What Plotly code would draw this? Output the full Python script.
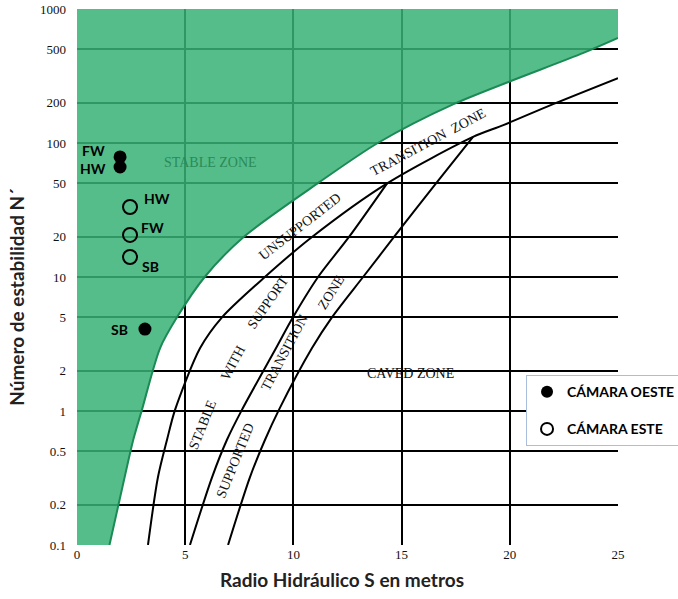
import numpy as np
import plotly.graph_objects as go

# ---------------- data ----------------
x_tick_vals = [0, 5, 10, 15, 20, 25]
y_tick_vals = [0.1, 0.2, 0.5, 1, 2, 5, 10, 20, 50, 100, 200, 500, 1000]
y_tick_text = ["0.1", "0.2", "0.5", "1", "2", "5", "10", "20", "50", "100", "200", "500", "1000"]

# boundary of the stable zone (green edge)
stable_x = [1.5, 2.2, 2.6, 3.0, 3.84, 4.62, 5.9, 7.7, 11.2, 13.9, 17.4, 23.4, 25.0]
stable_y = [0.1, 0.32, 0.61, 1.02, 2.95, 5.0, 10, 19.9, 51, 100, 195, 470, 608]

# lower boundary of unsupported transition zone / upper of stable with support
unsup_x = [3.28, 3.74, 4.16, 4.53, 5.69, 6.70, 8.68, 10.86, 14.33, 18.3, 19.7, 22.0, 25.0]
unsup_y = [0.1, 0.32, 0.61, 1.02, 2.95, 5.0, 10, 19.9, 50, 111, 136, 195, 305]

# stable with support / supported transition boundary
support_x = [5.22, 6.24, 6.93, 7.62, 9.2, 9.98, 11.14, 12.57, 14.33]
support_y = [0.1, 0.32, 0.61, 1.02, 2.95, 5.0, 10, 19.9, 50]

# supported transition / caved boundary
caved_x = [6.98, 7.99, 8.69, 9.33, 10.86, 11.78, 13.22, 14.65, 16.59, 18.3]
caved_y = [0.1, 0.32, 0.61, 1.02, 2.95, 5.0, 10, 19.9, 50, 111]

# observations
oeste_labels = ["FW", "HW", "SB"]
oeste_x = [1.99, 1.99, 3.14]
oeste_y = [78.7, 66.2, 4.09]

este_labels = ["HW", "FW", "SB"]
este_x = [2.45, 2.45, 2.45]
este_y = [33.3, 20.6, 14.1]

# ---------------- figure ----------------
fig = go.Figure()

serif = "Liberation Serif, Times New Roman, serif"
sans = "Lato, Open Sans, Arial, sans-serif"

# invisible outline of top-left corner used to close the green fill
fig.add_trace(go.Scatter(x=[0, 0, 25], y=[0.1, 1000, 1000], mode="lines",
                         line=dict(width=0, color="rgba(0,0,0,0)"),
                         showlegend=False, hoverinfo="skip"))
fig.add_trace(go.Scatter(x=stable_x, y=stable_y, mode="lines",
                         line=dict(color="#1b8a55", width=2, shape="spline", smoothing=0.8),
                         fill="tonexty", fillcolor="rgba(55,178,118,0.85)",
                         showlegend=False, hoverinfo="skip"))

for cx, cy in [(unsup_x, unsup_y), (support_x, support_y), (caved_x, caved_y)]:
    fig.add_trace(go.Scatter(x=cx, y=cy, mode="lines",
                             line=dict(color="black", width=2, shape="spline", smoothing=0.8),
                             showlegend=False, hoverinfo="skip"))

fig.add_trace(go.Scatter(x=oeste_x, y=oeste_y, mode="markers", name="<b>CÁMARA OESTE</b>",
                         marker=dict(color="black", size=13, symbol="circle"),
                         legendgroup="a"))
fig.add_trace(go.Scatter(x=este_x, y=este_y, mode="markers", name="<b>CÁMARA ESTE</b>",
                         marker=dict(color="black", size=14, symbol="circle-open", line=dict(width=2)),
                         legendgroup="b"))

annotations = []
# point labels
oeste_shift = [(-13, 6), (-12, -1), (-15, 0)]
for t, x, y, (dx, dy) in zip(oeste_labels, oeste_x, oeste_y, oeste_shift):
    annotations.append(dict(x=x, y=np.log10(y), text="<b>%s</b>" % t, showarrow=False,
                            xanchor="right", yanchor="middle", xshift=dx, yshift=dy,
                            font=dict(family=sans, size=14, color="black")))
este_shift = [(12, 8), (9, 7), (10, -9)]
for t, x, y, (dx, dy) in zip(este_labels, este_x, este_y, este_shift):
    annotations.append(dict(x=x, y=np.log10(y), text="<b>%s</b>" % t, showarrow=False,
                            xanchor="left", yanchor="middle", xshift=dx, yshift=dy,
                            font=dict(family=sans, size=14, color="black")))

# zone labels
zone_labels = [
    ("STABLE ZONE", 6.15, 71, 0, "#2b8a58"),
    ("CAVED ZONE", 15.4, 1.92, 0, "#111111"),
    ("UNSUPPORTED", 10.3, 24.0, -38, "#111111"),
    ("TRANSITION  ZONE", 16.2, 101, -28, "#111111"),
    ("STABLE", 5.82, 0.787, -68, "#111111"),
    ("WITH", 7.2, 2.32, -62, "#111111"),
    ("SUPPORT", 8.83, 6.4, -55, "#111111"),
    ("SUPPORTED", 7.3, 0.43, -68, "#111111"),
    ("TRANSITION", 9.6, 2.71, -62, "#111111"),
    ("ZONE", 11.75, 7.6, -58, "#111111"),
]
for t, x, y, ang, col in zone_labels:
    annotations.append(dict(x=x, y=np.log10(y), text=t, showarrow=False, textangle=ang,
                            xanchor="center", yanchor="middle",
                            font=dict(family=serif, size=14, color=col)))

# axis titles
annotations.append(dict(xref="paper", yref="paper", x=0.49, y=-0.065,
                        text="<b>Radio Hidráulico S en metros</b>", showarrow=False,
                        xanchor="center", yanchor="middle",
                        font=dict(family=sans, size=19, color="#222")))
annotations.append(dict(xref="paper", yref="paper", x=-0.111, y=0.463,
                        text="<b>Número de estabilidad N´</b>", showarrow=False, textangle=-90,
                        xanchor="center", yanchor="middle",
                        font=dict(family=sans, size=19, color="#222")))

fig.update_layout(
    width=678, height=599,
    margin=dict(l=77, r=60, t=9, b=54, autoexpand=False),
    paper_bgcolor="white", plot_bgcolor="white",
    annotations=annotations,
    legend=dict(x=0.83, y=0.317, xanchor="left", yanchor="top",
                bgcolor="white", bordercolor="#a9bddd", borderwidth=1,
                font=dict(family=sans, size=14, color="black"),
                traceorder="grouped", tracegroupgap=16, itemsizing="constant", itemwidth=30),
    xaxis=dict(range=[0, 25], tickvals=x_tick_vals, ticktext=[str(v) for v in x_tick_vals],
               showgrid=True, gridcolor="black", gridwidth=1.8, zeroline=False,
               showline=False,
               ticks="", ticklabeloverflow="allow",
               tickfont=dict(family=serif, size=13, color="#111"),
               automargin=False),
    yaxis=dict(type="log", range=[-1, 3], tickvals=y_tick_vals, ticktext=y_tick_text,
               showgrid=True, gridcolor="black", gridwidth=1.6, zeroline=False,
               showline=False,
               ticks="", ticklabelstandoff=10, ticklabeloverflow="allow",
               tickfont=dict(family=serif, size=13, color="#111"),
               automargin=False),
)

fig.write_html("out.html", config={"displayModeBar": False},
               post_script="document.body.style.margin='0px';")
